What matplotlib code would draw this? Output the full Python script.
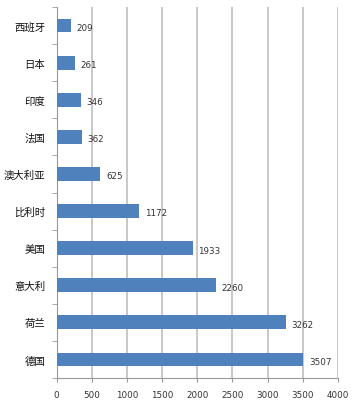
import matplotlib
matplotlib.use("Agg")
import matplotlib.pyplot as plt
import numpy as np

plt.rcParams['font.family'] = ['Noto Sans CJK SC', 'DejaVu Sans']

countries = ["西班牙", "日本", "印度", "法国", "澳大利亚", "比利时", "美国", "意大利", "荷兰", "德国"]
values = [209, 261, 346, 362, 625, 1172, 1933, 2260, 3262, 3507]
xticks = [0, 500, 1000, 1500, 2000, 2500, 3000, 3500, 4000]

fig = plt.figure(figsize=(3.53, 4.06), dpi=100)
ax = fig.add_axes([56.5/353, 1 - 379/406, (338 - 56.5)/353, (379 - 8)/406])

n = len(countries)
ypos = np.arange(n)
ax.barh(ypos, values, height=0.37, color="#4F81BD", zorder=3)
ax.set_ylim(n - 0.5, -0.5)
ax.set_xlim(0, 4000)

for y, v in zip(ypos, values):
    ax.text(v + 80, y + 0.05, str(v), va="center", ha="left", fontsize=6.3, color="#333333",
            family="DejaVu Sans")

ax.set_xticks(xticks)
ax.set_xticklabels([str(t) for t in xticks], fontsize=6.3, color="#333333", family="DejaVu Sans")
ax.xaxis.grid(True, color="#BFBFBF", linewidth=1.2, zorder=0)
ax.tick_params(axis="x", length=3, color="#999999", pad=6)

ax.set_yticks(ypos)
ax.set_yticklabels(countries, fontsize=7.5, color="#111111")
ax.tick_params(axis="y", length=0, pad=8)
ax.set_yticks(np.arange(-0.5, n + 0.5, 1), minor=True)
ax.tick_params(axis="y", which="minor", length=3.5, color="#999999")

for s in ["top", "right"]:
    ax.spines[s].set_visible(False)
ax.spines["left"].set_color("#999999")
ax.spines["bottom"].set_color("#999999")

fig.savefig("out.png", dpi=100)
